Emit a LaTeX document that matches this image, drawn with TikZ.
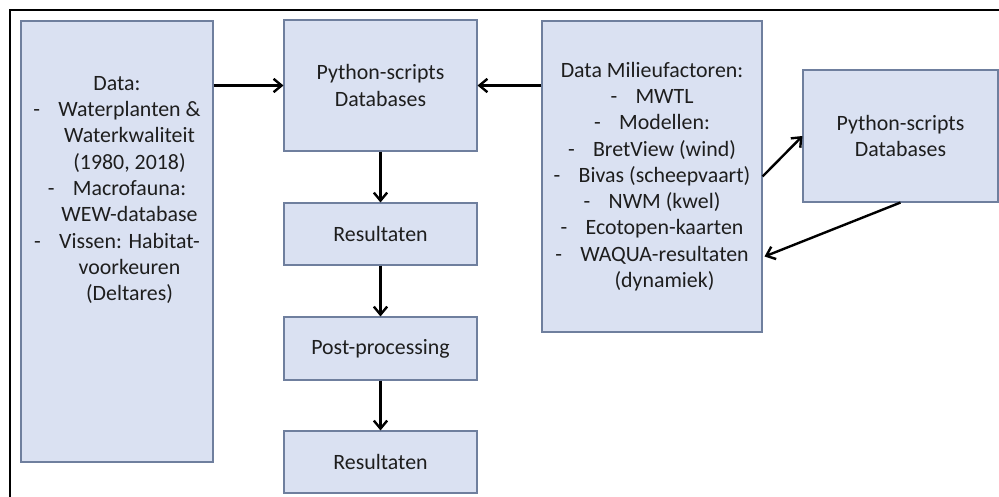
\documentclass[tikz,border=0pt]{standalone}
\usepackage{fontspec}
\setmainfont{Carlito}
\usetikzlibrary{arrows.meta,fit,calc}
\definecolor{boxfill}{HTML}{DAE1F2}
\definecolor{boxline}{HTML}{6F7F9E}
\definecolor{txt}{HTML}{1E1E1E}
% dash of a list item, followed by its tab gap
\newcommand{\itm}{\makebox[18.75pt][l]{-}}
% indent of a wrapped list line
\newcommand{\wrp}{\phantom{\itm}}
\begin{document}
\begin{tikzpicture}[x=0.75pt,y=-0.75pt,
  box/.style={draw=boxline,line width=0.8pt,fill=boxfill,inner sep=0pt},
  lbl/.style={text=txt,align=center,inner sep=0pt,
    font=\fontsize{16.4}{19.7}\selectfont},
  arr/.style={draw=black,line width=1.8pt,
    -{Straight Barb[length=6pt,width=10pt,line width=1.8pt]}}]
\useasboundingbox (0,0) rectangle (999,496);
% frame round the scheme
\draw[line width=1.5pt] (10,500) -- (10,10) -- (1005,10);

% boxes
\node[box,fit={(21,21) (213,462)}] (L) {};
\node[box,fit={(284,20) (477,151)}] (P1) {};
\node[box,fit={(284,203) (477,265)}] (R1) {};
\node[box,fit={(284,317) (477,380)}] (PP) {};
\node[box,fit={(284,431) (477,493)}] (R2) {};
\node[box,fit={(542,21) (762,332)}] (D) {};
\node[box,fit={(803,70) (998,202)}] (P2) {};

% texts
\node[lbl] (Lt) at (117,190) {Data:\\
  \itm Waterplanten \&\\
  \wrp Waterkwaliteit\\
  \wrp (1980, 2018)\\
  \itm Macrofauna:\\
  \wrp WEW-database\\
  \itm Vissen: Habitat-\\
  \wrp voorkeuren\\
  \wrp (Deltares)};
\node[lbl] (P1t) at (P1) {Python-scripts\\Databases};
\node[lbl] (R1t) at (R1) {Resultaten};
\node[lbl] (PPt) at (PP) {Post-processing};
\node[lbl] (R2t) at (R2) {Resultaten};
\node[lbl] (Dt) at (D) {Data Milieufactoren:\\
  \itm MWTL\\
  \itm Modellen:\\
  \itm BretView (wind)\\
  \itm Bivas (scheepvaart)\\
  \itm NWM (kwel)\\
  \itm Ecotopen-kaarten\\
  \itm WAQUA-resultaten\\
  \wrp (dynamiek)};
\node[lbl] (P2t) at (P2) {Python-scripts\\Databases};

% connectors
\draw[arr] (L.east |- P1.west) -- (P1.west);
\draw[arr] (D.west |- P1.east) -- (P1.east);
\draw[arr] (P1.south) -- (R1.north);
\draw[arr] (R1.south) -- (PP.north);
\draw[arr] (PP.south) -- (R2.north);
\draw[arr] (D.east) -- (P2.west);
\draw[arr] (P2.south) -- ($(D.east)+(2,80)$);
\end{tikzpicture}
\end{document}
